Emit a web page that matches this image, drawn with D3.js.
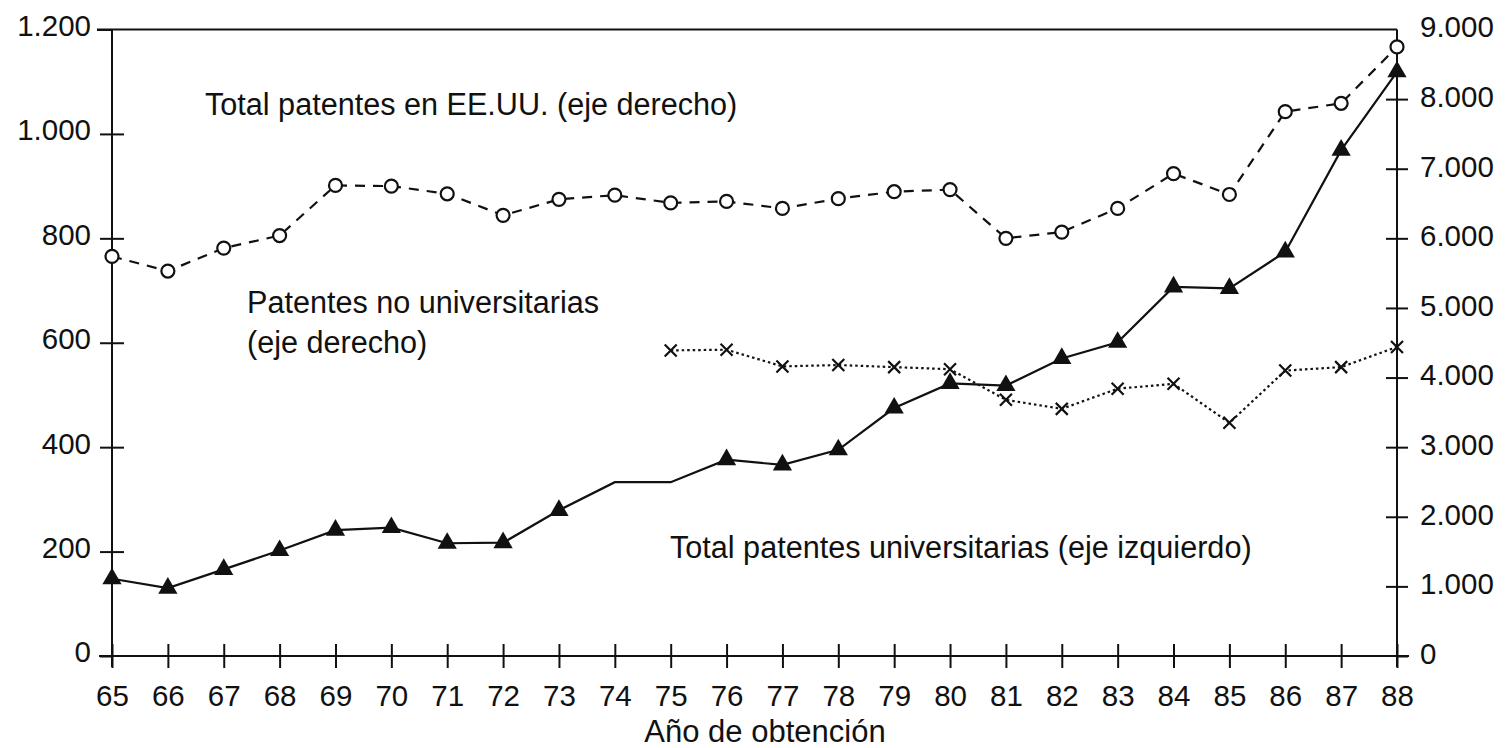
<!DOCTYPE html>
<html>
<head>
<meta charset="utf-8">
<script src="https://cdn.jsdelivr.net/npm/d3@7"></script>
<style>
  body { margin: 0; background: #fff; }
  text { font-family: "Liberation Sans", Arial, Helvetica, sans-serif; fill: #111; }
</style>
</head>
<body>
<div id="chart"></div>
<script>
const width = 1505
const height = 748

// years (x axis)
const years = [65, 66, 67, 68, 69, 70, 71, 72, 73, 74, 75, 76, 77, 78, 79, 80, 81, 82, 83, 84, 85, 86, 87, 88]
// Total patentes universitarias (eje izquierdo)
const univPatents = [148, 130, 166, 202, 241, 246, 216, 217, 279, 333, 333, 376, 366, 395, 475, 522, 518, 570, 601, 707, 704, 774, 969, 1119]
// years where the university line has no marker
const univNoMarker = [74, 75]
// Total patentes en EE.UU. (eje derecho)
const totalUS = [5740, 5530, 5860, 6040, 6760, 6750, 6640, 6330, 6560, 6620, 6510, 6530, 6430, 6570, 6670, 6700, 6000, 6090, 6430, 6930, 6630, 7820, 7940, 8750]
// Patentes no universitarias (eje derecho)
const nonUniv = [null, null, null, null, null, null, null, null, null, null, 4390, 4400, 4160, 4180, 4150, 4120, 3680, 3550, 3840, 3910, 3350, 4100, 4150, 4440]

const leftTicks = [0, 200, 400, 600, 800, 1000, 1200]
const rightTicks = [0, 1000, 2000, 3000, 4000, 5000, 6000, 7000, 8000, 9000]

const plotLeft = 112, plotRight = 1397, plotTop = 29.5, plotBottom = 656

const fmt = d3.formatLocale({ decimal: ",", thousands: ".", grouping: [3], currency: ["", ""] }).format(",")

let x = d3.scaleLinear().domain([65, 88]).range([plotLeft, plotRight])
let yL = d3.scaleLinear().domain([0, 1200]).range([plotBottom, plotTop])
let yR = d3.scaleLinear().domain([0, 9000]).range([plotBottom, plotTop])

let svg = d3.select("#chart")
  .append("svg")
  .attr("width", width)
  .attr("height", height)

// frame lines
svg.append("line").attr("x1", 97).attr("x2", plotRight).attr("y1", plotTop).attr("y2", plotTop)
  .attr("stroke", "#111").attr("stroke-width", 2)
svg.append("line").attr("x1", 99).attr("x2", 1409).attr("y1", plotBottom).attr("y2", plotBottom)
  .attr("stroke", "#111").attr("stroke-width", 2)
svg.append("line").attr("x1", plotLeft).attr("x2", plotLeft).attr("y1", plotTop).attr("y2", plotBottom + 11)
  .attr("stroke", "#111").attr("stroke-width", 2)
svg.append("line").attr("x1", plotRight).attr("x2", plotRight).attr("y1", plotTop).attr("y2", plotBottom + 11)
  .attr("stroke", "#111").attr("stroke-width", 2)

// left axis, ticks crossing the axis line
let gL = svg.append("g")
  .attr("transform", "translate(" + plotLeft + ",0)")
  .call(d3.axisLeft(yL).tickValues(leftTicks).tickFormat(fmt).tickSize(12).tickPadding(9))
gL.select(".domain").remove()
gL.selectAll(".tick line").attr("x2", d => d === 1200 ? -15 : -12).attr("x1", d => d === 0 || d === 1200 ? 0 : 12)
  .attr("stroke", "#111").attr("stroke-width", 2)

// right axis
let gR = svg.append("g")
  .attr("transform", "translate(" + plotRight + ",0)")
  .call(d3.axisRight(yR).tickValues(rightTicks).tickFormat(fmt).tickSize(11).tickPadding(12))
gR.select(".domain").remove()
gR.selectAll(".tick line").attr("x1", d => d === 0 ? 0 : -11)
  .attr("stroke", "#111").attr("stroke-width", 2)
  .attr("display", d => d === 9000 ? "none" : null)

// bottom axis
let gX = svg.append("g")
  .attr("transform", "translate(0," + plotBottom + ")")
  .call(d3.axisBottom(x).tickValues(years).tickFormat(d => d).tickSize(12).tickPadding(17))
gX.select(".domain").remove()
gX.selectAll(".tick line").attr("y1", -12)
  .attr("stroke", "#111").attr("stroke-width", 2)

svg.selectAll(".tick text").style("font-size", "29.5px").attr("fill", "#111")
gL.selectAll(".tick text").attr("dy", "0.2em")
gR.selectAll(".tick text").attr("dy", "0.25em")

// lines
const univData = years.map((y, i) => ({ year: y, v: univPatents[i] }))
const usData = years.map((y, i) => ({ year: y, v: totalUS[i] }))
const nonData = years.map((y, i) => ({ year: y, v: nonUniv[i] }))

svg.append("path")
  .datum(usData)
  .attr("fill", "none").attr("stroke", "#111").attr("stroke-width", 2.2)
  .attr("stroke-dasharray", "10,8")
  .attr("d", d3.line().x(d => x(d.year)).y(d => yR(d.v)))

svg.append("path")
  .datum(nonData)
  .attr("fill", "none").attr("stroke", "#111").attr("stroke-width", 2.2)
  .attr("stroke-dasharray", "2.5,3")
  .attr("d", d3.line().defined(d => d.v !== null).x(d => x(d.year)).y(d => yR(d.v)))

svg.append("path")
  .datum(univData)
  .attr("fill", "none").attr("stroke", "#111").attr("stroke-width", 2.2)
  .attr("d", d3.line().x(d => x(d.year)).y(d => yL(d.v)))

// markers
svg.append("g")
  .selectAll("path")
  .data(nonData.filter(d => d.v !== null))
  .enter().append("path")
  .attr("transform", d => "translate(" + x(d.year) + "," + yR(d.v) + ")")
  .attr("d", "M-6,-6L6,6M-6,6L6,-6")
  .attr("stroke", "#111").attr("stroke-width", 2.2).attr("fill", "none")

svg.append("g")
  .selectAll("circle")
  .data(usData)
  .enter().append("circle")
  .attr("cx", d => x(d.year))
  .attr("cy", d => yR(d.v))
  .attr("r", 6.5)
  .attr("fill", "#fff").attr("stroke", "#111").attr("stroke-width", 2.2)

svg.append("g")
  .selectAll("path")
  .data(univData.filter(d => !univNoMarker.includes(d.year)))
  .enter().append("path")
  .attr("transform", d => "translate(" + x(d.year) + "," + yL(d.v) + ")")
  .attr("d", d3.symbol(d3.symbolTriangle, 160))
  .attr("fill", "#111")

// annotations
const labelSize = "30.6px"
svg.append("text").attr("x", 205).attr("y", 115).style("font-size", labelSize)
  .text("Total patentes en EE.UU. (eje derecho)")
svg.append("text").attr("x", 247).attr("y", 313).style("font-size", labelSize)
  .text("Patentes no universitarias")
svg.append("text").attr("x", 247).attr("y", 353).style("font-size", labelSize)
  .text("(eje derecho)")
svg.append("text").attr("x", 670).attr("y", 558).style("font-size", labelSize)
  .text("Total patentes universitarias (eje izquierdo)")

svg.append("text").attr("x", 765).attr("y", 742).attr("text-anchor", "middle").style("font-size", "31px")
  .text("Año de obtención")
</script>
</body>
</html>
